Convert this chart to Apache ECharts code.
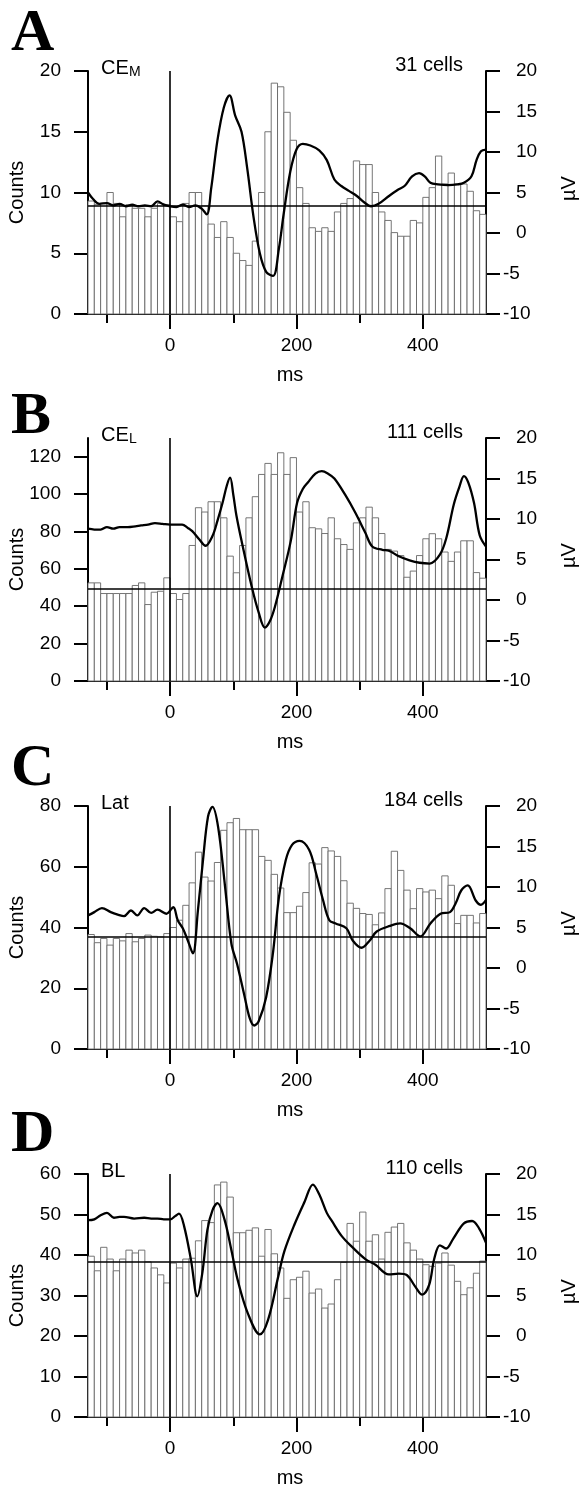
<!DOCTYPE html>
<html><head><meta charset="utf-8">
<script src="https://cdn.jsdelivr.net/npm/echarts@6/dist/echarts.min.js"></script>
<style>html,body{margin:0;padding:0;background:#fff}#c{width:580px;height:1488px}</style>
</head><body><div id="c"></div>
<script>
// ---- data ----
const BIN_START = [-130,-120,-110,-100,-90,-80,-70,-60,-50,-40,-30,-20,-10,0,10,20,30,40,50,60,70,80,90,100,110,120,130,140,150,160,170,180,190,200,210,220,230,240,250,260,270,280,290,300,310,320,330,340,350,360,370,380,390,400,410,420,430,440,450,460,470,480,490];
const BIN_WIDTH = 10;
const X_MAJOR_TICKS = [0,200,400];
const X_MINOR_TICKS = [-100,100,300];
const UV_TICKS = [-10,-5,0,5,10,15,20];

const A_COUNTS = [9.3,9.0,9.1,10.0,9.1,8.0,9.0,8.7,8.7,8.0,8.7,9.1,9.0,
 8.0,7.6,9.1,10.0,10.0,8.9,7.4,6.3,7.6,6.3,5.0,4.4,4.0,6.0,10.0,15.0,19.0,18.7,16.6,14.3,10.4,9.1,7.1,6.8,7.1,6.8,8.4,9.1,9.5,12.6,12.3,12.3,10.0,8.4,7.7,6.7,6.4,6.4,7.7,7.5,9.6,10.4,13.0,10.7,11.6,10.7,10.7,10.1,8.5,8.2];
const B_COUNTS = [52.5,52.5,46.8,46.8,46.8,46.8,46.8,51.1,52.5,40.9,47.5,48.0,55.2,
 46.8,43.6,46.8,72.5,92.7,90.4,95.9,95.9,87.3,66.8,57.9,72.5,87.3,98.6,110.5,116.4,110.5,122.1,110.5,119.5,90.4,95.9,82.0,81.4,78.9,87.3,76.1,73.0,70.4,84.6,87.3,93.0,87.3,78.9,70.4,69.5,67.1,55.5,58.8,67.1,76.1,78.8,76.1,69.0,64.0,69.0,75.0,75.0,58.0,55.0];
const C_COUNTS = [37.7,35.0,36.4,34.2,36.4,35.6,38.0,35.3,36.4,37.5,37.1,36.9,38.0,
 40.0,42.4,47.3,54.7,64.8,56.6,55.3,61.4,72.0,74.5,75.9,72.2,72.2,72.2,63.4,62.1,57.5,53.0,44.9,44.9,47.0,51.5,61.3,60.9,66.3,65.2,63.4,55.4,48.0,46.3,44.6,44.3,40.9,44.8,52.8,65.1,58.8,52.3,46.2,52.8,51.7,52.3,49.5,57.0,53.9,41.3,44.0,44.0,41.5,44.6];
const D_COUNTS = [39.7,36.1,41.9,39.0,36.1,39.0,41.2,40.5,41.2,38.3,36.8,35.1,33.1,
 38.0,36.8,39.0,39.2,43.5,48.5,48.0,57.3,58.0,54.3,45.5,45.5,46.1,46.7,39.7,46.3,40.3,36.8,29.3,33.9,34.5,36.0,30.6,31.6,26.9,27.9,33.9,38.2,47.8,43.4,50.6,43.4,45.0,39.0,45.6,46.9,47.8,43.0,41.2,39.0,37.6,37.2,38.0,40.5,37.5,33.5,30.2,31.9,35.5,38.5];

const A_MEAN = 8.9, B_MEAN = 49.1, C_MEAN = 37.1, D_MEAN = 38.3;

const A_COUNT_TICKS = [0,5,10,15,20];
const B_COUNT_TICKS = [0,20,40,60,80,100,120];
const C_COUNT_TICKS = [0,20,40,60,80];
const D_COUNT_TICKS = [0,10,20,30,40,50,60];
const A_COUNT_MAX = 20, B_COUNT_MAX = 130, C_COUNT_MAX = 80, D_COUNT_MAX = 60;

const A_MS = [-130,-122,-112,-100,-90,-80,-70,-60,-50,-40,-30,-20,-10,0,10,20,30,40,50,58,65,75,85,94,103,113,122,132,142,152,163,172,180,190,200,210,222,236,248,260,271,283,295,307,318,330,347,360,371,383,394,403,412,424,440,455,465,477,485,492,500];
const A_UV = [5.0,4.2,3.6,3.7,3.4,3.6,3.3,3.5,3.3,3.4,3.3,3.9,3.5,3.3,3.2,3.5,3.2,3.4,3.0,2.3,5.5,11.5,15.5,17.0,14.5,12.5,8.0,2.0,-2.5,-4.8,-5.3,-2.0,2.5,7.5,10.3,11.0,10.8,10.2,9.0,6.6,5.8,5.2,4.6,3.8,3.3,3.6,4.6,5.3,5.8,7.0,7.4,7.0,6.2,6.0,5.9,6.0,6.2,7.0,9.0,10.1,10.3];
const B_MS = [-130,-120,-110,-100,-90,-80,-67,-55,-46,-35,-24,-12,0,10,19,28,35,46,56,67,75,83,90,95,100,105,115,129,140,150,158,166,178,191,201,210,218,230,240,250,260,277,293,309,320,336,346,362,379,395,411,427,437,449,458,465,472,481,490,500];
const B_UV = [8.8,8.7,8.7,9.0,8.8,9.0,9.0,9.1,9.2,9.3,9.5,9.4,9.3,9.3,9.3,8.9,8.5,7.5,6.7,7.9,9.8,12.0,14.2,15.1,13.0,10.4,6.6,1.7,-1.5,-3.4,-2.6,-0.8,3.0,7.3,12.0,13.7,14.5,15.6,15.9,15.6,15.0,13.0,10.8,8.3,6.6,6.2,6.1,5.4,4.9,4.6,4.5,5.6,7.6,11.8,14.0,15.3,14.5,12.0,8.0,6.6];
const C_MS = [-130,-120,-108,-94,-83,-73,-62,-52,-41,-30,-20,-6,5,12,20,28,36,44,52,60,67,76,87,97,106,117,126,133,140,152,163,172,183,193,205,220,231,242,252,262,279,289,303,316,327,348,364,380,396,412,428,443,452,461,471,484,492,500];
const C_UV = [6.5,6.9,7.4,6.9,6.6,6.4,7.1,6.5,7.4,6.8,7.2,6.7,7.5,5.9,4.9,3.4,1.8,7.1,13.3,18.7,19.9,17.4,10.0,3.0,0.5,-3.2,-6.2,-7.1,-6.6,-3.6,2.0,8.6,13.3,15.2,15.7,14.6,11.7,8.4,5.9,5.5,4.9,3.4,2.5,3.4,4.5,5.2,5.5,4.9,3.9,5.5,6.7,6.9,8.0,9.6,10.2,8.3,7.8,8.4];
const D_MS = [-130,-120,-110,-100,-89,-80,-73,-57,-41,-30,-20,-10,0,8,14,22,33,43,51,59,67,75,86,97,107,123,142,155,171,181,197,213,226,236,248,256,272,288,309,325,346,362,375,388,399,410,418,427,437,448,465,478,489,500];
const D_UV = [14.3,14.4,14.9,15.2,14.6,14.7,14.7,14.5,14.6,14.5,14.5,14.4,14.4,14.8,15.1,13.6,9.4,4.9,7.8,13.1,15.5,16.4,14.4,10.6,6.9,2.8,0.2,2.0,7.3,10.5,13.8,16.6,18.7,17.5,15.2,14.2,12.3,11.0,9.5,8.8,7.6,7.7,7.5,6.1,5.1,6.3,9.5,11.2,10.8,12.0,13.9,14.2,13.3,11.5];

// ---- layout / style ----
const FONT = '"Liberation Sans", Arial, Helvetica, sans-serif';
const SERIF = '"Liberation Serif", "Times New Roman", serif';
const LEFT = 88, W = 398, H = 243;
const TOPS = [71, 438, 806, 1174];
const LETTER_Y = [34, 417, 769, 1135];
const PANELS = [
  {letter:'A', region:'CE', sub:'M', cells:'31 cells', counts:A_COUNTS, max:A_COUNT_MAX, ticks:A_COUNT_TICKS, mean:A_MEAN, ms:A_MS, uv:A_UV},
  {letter:'B', region:'CE', sub:'L', cells:'111 cells', counts:B_COUNTS, max:B_COUNT_MAX, ticks:B_COUNT_TICKS, mean:B_MEAN, ms:B_MS, uv:B_UV},
  {letter:'C', region:'Lat', sub:'', cells:'184 cells', counts:C_COUNTS, max:C_COUNT_MAX, ticks:C_COUNT_TICKS, mean:C_MEAN, ms:C_MS, uv:C_UV},
  {letter:'D', region:'BL', sub:'', cells:'110 cells', counts:D_COUNTS, max:D_COUNT_MAX, ticks:D_COUNT_TICKS, mean:D_MEAN, ms:D_MS, uv:D_UV}
];

const line = () => ({show:true, onZero:false, lineStyle:{color:'#000', width:2}});
const option = {animation:false, grid:[], xAxis:[], yAxis:[], series:[], graphic:[]};

PANELS.forEach((p, i) => {
  const top = TOPS[i];
  option.grid.push({left:LEFT, top:top, width:W, height:H});
  option.xAxis.push({gridIndex:i, type:'value', position:'bottom', min:-130, max:500,
    axisLine:line(), splitLine:{show:false},
    axisTick:{show:true, customValues:X_MAJOR_TICKS, length:15, lineStyle:{color:'#000', width:2}},
    axisLabel:{show:true, customValues:X_MAJOR_TICKS, margin:22, fontSize:19, color:'#000', fontFamily:FONT}});
  option.xAxis.push({gridIndex:i, type:'value', position:'bottom', min:-130, max:500,
    axisLine:{show:false}, splitLine:{show:false},
    axisTick:{show:true, customValues:X_MINOR_TICKS, length:9, lineStyle:{color:'#000', width:2}},
    axisLabel:{show:false}});
  option.yAxis.push({gridIndex:i, type:'value', position:'left', min:0, max:p.max,
    axisLine:line(), splitLine:{show:false},
    axisTick:{show:true, customValues:p.ticks, length:14, lineStyle:{color:'#000', width:2}},
    axisLabel:{show:true, customValues:p.ticks, margin:27, fontSize:19, color:'#000', fontFamily:FONT}});
  option.yAxis.push({gridIndex:i, type:'value', position:'right', min:-10, max:20,
    axisLine:line(), splitLine:{show:false},
    axisTick:{show:true, customValues:UV_TICKS, length:14, lineStyle:{color:'#000', width:2}},
    axisLabel:{show:true, customValues:UV_TICKS, margin:17, align:'left', fontSize:19, color:'#000', fontFamily:FONT,
      formatter:(v) => v < 0 ? String(v) : '{p| }' + v, rich:{p:{width:13, fontSize:19}}}});

  option.series.push({type:'custom', coordinateSystem:'cartesian2d', xAxisIndex:2*i, yAxisIndex:2*i, z:1,
    encode:{x:0, y:1}, silent:true,
    data:BIN_START.map((s, j) => [s, p.counts[j]]),
    renderItem:(params, api) => {
      const s = api.value(0), c = api.value(1);
      const p0 = api.coord([s, c]), p1 = api.coord([s + BIN_WIDTH, 0]);
      return {type:'rect', shape:{x:p0[0], y:p0[1], width:p1[0]-p0[0], height:p1[1]-p0[1]},
        style:{fill:'#fff', stroke:'#666', lineWidth:0.9}};
    }});
  option.series.push({type:'line', xAxisIndex:2*i, yAxisIndex:2*i, data:[], z:3, silent:true,
    markLine:{silent:true, animation:false, symbol:['none','none'], label:{show:false},
      lineStyle:{color:'#000', width:1.6, type:'solid'}, emphasis:{disabled:true},
      data:[{xAxis:0}, {yAxis:p.mean}]}});
  option.series.push({type:'line', xAxisIndex:2*i, yAxisIndex:2*i+1, z:5, silent:true,
    data:p.ms.map((m, j) => [m, p.uv[j]]), smooth:0.35, symbol:'none',
    lineStyle:{color:'#000', width:2.3}});

  const g = option.graphic;
  g.push({type:'text', x:11, y:LETTER_Y[i], style:{text:p.letter, font:'bold 60px ' + SERIF, fill:'#000', textVerticalAlign:'middle'}});
  g.push({type:'text', x:101, y:top - 3, style:{text:p.region, font:'20px ' + FONT, fill:'#000', textVerticalAlign:'middle'}});
  if (p.sub) g.push({type:'text', x:129, y:top + 1, style:{text:p.sub, font:'14px ' + FONT, fill:'#000', textVerticalAlign:'middle'}});
  g.push({type:'text', x:463, y:top - 6, style:{text:p.cells, font:'20px ' + FONT, fill:'#000', textAlign:'right', textVerticalAlign:'middle'}});
  g.push({type:'text', x:17, y:top + H/2, rotation:Math.PI/2, style:{text:'Counts', font:'20px ' + FONT, fill:'#000', textAlign:'center', textVerticalAlign:'middle'}});
  g.push({type:'text', x:569, y:top + H/2 - 4, rotation:Math.PI/2, style:{text:'\u00B5V', font:'20px ' + FONT, fill:'#000', textAlign:'center', textVerticalAlign:'middle'}});
  g.push({type:'text', x:290, y:top + H + 61, style:{text:'ms', font:'20px ' + FONT, fill:'#000', textAlign:'center', textVerticalAlign:'middle'}});
});

const chart = echarts.init(document.getElementById('c'), null, {renderer:'canvas'});
chart.setOption(option);
</script>
</body></html>
